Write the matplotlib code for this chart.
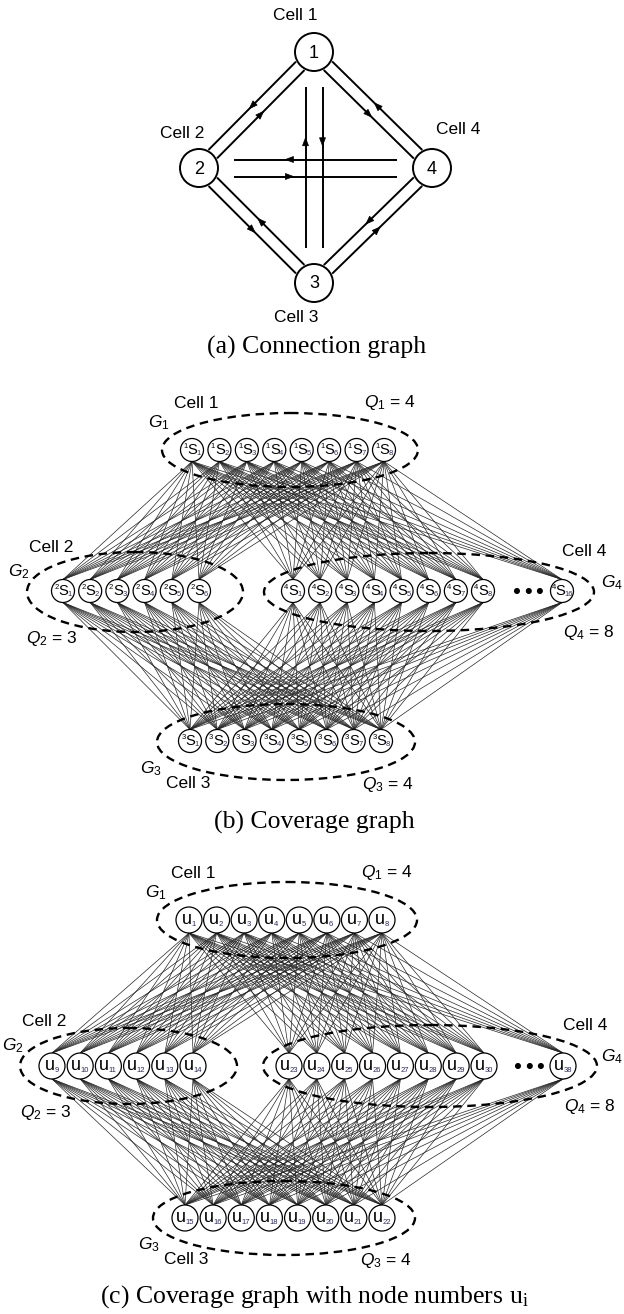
import matplotlib
matplotlib.use("Agg")
import matplotlib.pyplot as plt
from matplotlib.patches import Circle, Ellipse, Polygon
from matplotlib.collections import LineCollection
import numpy as np

plt.rcParams['font.family'] = ['Liberation Sans', 'DejaVu Sans']
plt.rcParams['mathtext.fontset'] = 'custom'
plt.rcParams['mathtext.rm'] = 'Liberation Sans'
plt.rcParams['mathtext.it'] = 'Liberation Sans:italic'

# (a) connection graph: directed links between cells
cell_ids = [1, 2, 3, 4]
link_src = [1, 2, 2, 3, 3, 4, 4, 1, 4, 2, 3, 1]
link_dst = [2, 1, 3, 2, 4, 3, 1, 4, 2, 4, 1, 3]
link_side = [1, 1, 1, 1, 1, 1, 1, 1, 1, 1, -1, -1]
link_arrow_at = [0.5, 0.5, 0.5, 0.5, 0.5, 0.5, 0.5, 0.5, 0.66, 0.34, 0.66, 0.34]
cross_pairs = [(2, 4), (1, 3)]

# (b), (c) coverage graphs
group_cells = [1, 2, 4, 3]
station_count = [8, 6, 16, 8]
shown_stations = [[1, 2, 3, 4, 5, 6, 7, 8],
                  [1, 2, 3, 4, 5, 6],
                  [1, 2, 3, 4, 5, 6, 7, 8, 16],
                  [1, 2, 3, 4, 5, 6, 7, 8]]
q_values = [4, 3, 8, 4]
first_node_number = [1, 9, 23, 15]
coverage_pairs = [(1, 2), (1, 4), (2, 3), (4, 3)]

LW = 1.4
SERIF = ['Liberation Serif', 'DejaVu Serif']


def arrow_head(ax, tip_center, d, length=8.0, width=6.0):
    n = np.array([-d[1], d[0]])
    tip = tip_center + d * length / 2
    base = tip_center - d * length / 2
    ax.add_patch(Polygon([tip, base + n * width / 2, base - n * width / 2],
                         closed=True, facecolor='black', edgecolor='black',
                         linewidth=0.5, zorder=3))


def draw_connection_graph(ax):
    pos = {1: (314, 52), 2: (199, 168), 3: (314, 283), 4: (432, 168)}
    r = 19
    for c in cell_ids:
        x, y = pos[c]
        ax.add_patch(Circle((x, y), r, facecolor='white', edgecolor='black',
                            linewidth=LW, zorder=4))
        ax.text(x, y + 1, str(c), ha='center', va='center', fontsize=13, zorder=5)

    for s, t, side, f in zip(link_src, link_dst, link_side, link_arrow_at):
        a = np.array(pos[s], float)
        b = np.array(pos[t], float)
        length = np.linalg.norm(b - a)
        d = (b - a) / length
        perp = np.array([-d[1], d[0]]) * side
        if (s, t) in cross_pairs or (t, s) in cross_pairs:
            off, trim = 8.5, 35
        else:
            off = 6
            trim = np.sqrt(r ** 2 - off ** 2) + 1.5
        p0 = a + d * trim + perp * off
        p1 = b - d * trim + perp * off
        ax.plot([p0[0], p1[0]], [p0[1], p1[1]], color='black', linewidth=LW,
                solid_capstyle='butt', zorder=2)
        arrow_head(ax, p0 + (p1 - p0) * f, d)

    ax.text(295, 16, 'Cell 1', ha='center', va='center', fontsize=12.5)
    ax.text(182, 133, 'Cell 2', ha='center', va='center', fontsize=12.5)
    ax.text(458, 130, 'Cell 4', ha='center', va='center', fontsize=12.5)
    ax.text(296, 317, 'Cell 3', ha='center', va='center', fontsize=12.5)
    ax.text(317, 347, '(a) Connection graph', ha='center', va='center',
            fontsize=18.5, family=SERIF)


def draw_coverage_graph(ax, layout, r, numbered, caption, cap_y):
    # node centres per cell
    centres = {}
    for k, cell in enumerate(group_cells):
        x0, x1, y = layout[cell]['row']
        shown = shown_stations[k]
        xs = list(np.linspace(x0, x1, 8 if cell == 4 else len(shown)))
        if cell == 4:
            xs = xs + [layout[cell]['last']]
        centres[cell] = [(x, y, s) for x, s in zip(xs, shown)]

    segs = []
    for top, bottom in coverage_pairs:
        for xa, ya, _ in centres[top]:
            for xb, yb, _ in centres[bottom]:
                segs.append([(xa, ya + r), (xb, yb - r)])
    ax.add_collection(LineCollection(segs, colors='#262626', linewidths=0.5, zorder=1))

    for k, cell in enumerate(group_cells):
        ex, ey, ew, eh = layout[cell]['ellipse']
        ax.add_patch(Ellipse((ex, ey), ew, eh, fill=False, edgecolor='black',
                             linewidth=1.7, linestyle=(0, (3.6, 2.4)), zorder=2))
        for x, y, s in centres[cell]:
            ax.add_patch(Circle((x, y), r, facecolor='white', edgecolor='black',
                                linewidth=0.9, zorder=3))
            shift = -2.0 if s >= 10 else 0.0
            if numbered:
                u = first_node_number[k] + s - 1
                sh = -2.0 if u >= 10 else 0.0
                ax.text(x - 2.5 + sh, y - 1, 'u', ha='center', va='center',
                        fontsize=13, zorder=4)
                ax.text(x + 2.2 + sh, y + 4.5, str(u), ha='left', va='center',
                        fontsize=5.5, color='#2a2a55', zorder=4)
            else:
                ax.text(x - 6.5 + shift, y - 3.5, str(cell), ha='center', va='center',
                        fontsize=5.5, zorder=4)
                ax.text(x + 0.5 + shift, y, 'S', ha='center', va='center',
                        fontsize=10.5, zorder=4)
                ax.text(x + 4.8 + shift, y + 3.8, str(s), ha='left', va='center',
                        fontsize=5.5, color='#2a2a55', zorder=4)
        if cell == 4:
            x8, y8, _ = centres[4][7]
            x16 = centres[4][8][0]
            for f in [0.43, 0.58, 0.72]:
                ax.add_patch(Circle((x8 + (x16 - x8) * f, y8), 2.3,
                                    color='black', zorder=3))

    # group labels around each ellipse
    offsets = {1: {'cell': (-94, -47), 'q': (100, -47), 'g': (-131, -27)},
               2: {'cell': (-84, -44), 'q': (-83, 47), 'g': (-116, -20)},
               4: {'cell': (155, -41), 'q': (160, 40), 'g': (183, -9)},
               3: {'cell': (-98, 42), 'q': (102, 42), 'g': (-135, 27)}}
    for k, cell in enumerate(group_cells):
        ex, ey = layout[cell]['ellipse'][:2]
        o = offsets[cell]
        ax.text(ex + o['cell'][0], ey + o['cell'][1], f'Cell {cell}',
                ha='center', va='center', fontsize=12.5)
        ax.text(ex + o['q'][0], ey + o['q'][1],
                rf'$Q_{{\mathit{{{cell}}}}}$ = {q_values[k]}',
                ha='center', va='center', fontsize=12.5)
        gx = min(ex + o['g'][0], 612)
        ax.text(gx, ey + o['g'][1], rf'$G_{{\mathit{{{cell}}}}}$',
                ha='center', va='center', fontsize=12.5)

    ax.text(314, cap_y, caption, ha='center', va='center', fontsize=18.5, family=SERIF)


layout_b = {1: {'row': (192, 384, 450), 'ellipse': (290, 450, 256, 74)},
            2: {'row': (63, 199, 591), 'ellipse': (135, 592, 216, 80)},
            4: {'row': (293, 483, 591), 'last': 562, 'ellipse': (429, 592, 330, 78)},
            3: {'row': (190, 381, 741), 'ellipse': (286, 742, 258, 76)}}

layout_c = {1: {'row': (189, 382, 920), 'ellipse': (287, 920, 260, 76)},
            2: {'row': (52, 193, 1066), 'ellipse': (128.5, 1066, 217, 76)},
            4: {'row': (289, 484, 1066), 'last': 563, 'ellipse': (430, 1066, 334, 82)},
            3: {'row': (185, 382, 1218), 'ellipse': (284, 1218, 262, 74)}}

fig = plt.figure(figsize=(6.24, 13.14), dpi=100)
ax = fig.add_axes([0, 0, 1, 1])
ax.set_xlim(0, 624)
ax.set_ylim(1314, 0)
ax.axis('off')

draw_connection_graph(ax)
draw_coverage_graph(ax, layout_b, 11.5, False, '(b) Coverage graph', 822)
draw_coverage_graph(ax, layout_c, 13, True,
                    r'(c) Coverage graph with node numbers $\mathregular{u_i}$', 1297)

fig.savefig('out.png', dpi=100)
plt.close(fig)
